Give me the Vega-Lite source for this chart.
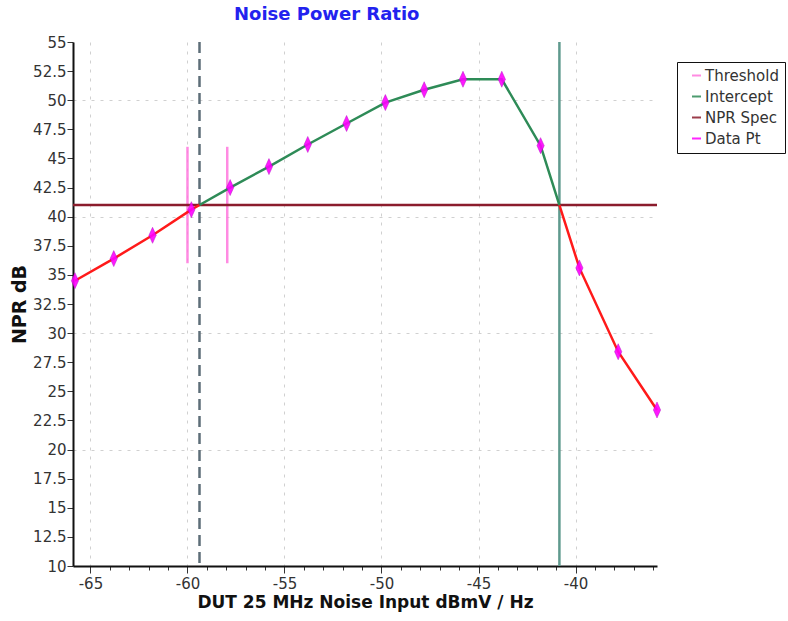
{
  "$schema": "https://vega.github.io/schema/vega-lite/v6.json",
  "autosize": {"type": "none"},
  "padding": {"left": 73, "top": 42, "right": 131, "bottom": 55},
  "width": 584,
  "height": 524,
  "background": "white",
  "config": {
    "font": "DejaVu Sans",
    "view": {"stroke": null}
  },
  "title": {
    "text": "Noise Power Ratio",
    "color": "#2222ee",
    "fontSize": 18,
    "fontWeight": "bold",
    "font": "DejaVu Sans",
    "anchor": "start",
    "frame": "group",
    "dx": 161,
    "offset": 11
  },
  "datasets": {
    "curve": [
      {"x": -65.8, "y": 34.5, "seg": "r1"},
      {"x": -63.8, "y": 36.4, "seg": "r1"},
      {"x": -61.8, "y": 38.4, "seg": "r1"},
      {"x": -59.8, "y": 40.6, "seg": "r1"},
      {"x": -59.38, "y": 41, "seg": "r1"},
      {"x": -59.38, "y": 41, "seg": "g"},
      {"x": -57.8, "y": 42.5, "seg": "g"},
      {"x": -55.8, "y": 44.3, "seg": "g"},
      {"x": -53.8, "y": 46.2, "seg": "g"},
      {"x": -51.8, "y": 48.0, "seg": "g"},
      {"x": -49.8, "y": 49.8, "seg": "g"},
      {"x": -47.8, "y": 50.9, "seg": "g"},
      {"x": -45.8, "y": 51.8, "seg": "g"},
      {"x": -43.8, "y": 51.8, "seg": "g"},
      {"x": -41.8, "y": 46.1, "seg": "g"},
      {"x": -40.83, "y": 41, "seg": "g"},
      {"x": -40.83, "y": 41, "seg": "r2"},
      {"x": -39.8, "y": 35.6, "seg": "r2"},
      {"x": -37.8, "y": 28.4, "seg": "r2"},
      {"x": -35.8, "y": 23.4, "seg": "r2"}
    ],
    "pts": [
      {"x": -65.8, "y": 34.5},
      {"x": -63.8, "y": 36.4},
      {"x": -61.8, "y": 38.4},
      {"x": -59.8, "y": 40.6},
      {"x": -57.8, "y": 42.5},
      {"x": -55.8, "y": 44.3},
      {"x": -53.8, "y": 46.2},
      {"x": -51.8, "y": 48.0},
      {"x": -49.8, "y": 49.8},
      {"x": -47.8, "y": 50.9},
      {"x": -45.8, "y": 51.8},
      {"x": -43.8, "y": 51.8},
      {"x": -41.8, "y": 46.1},
      {"x": -39.8, "y": 35.6},
      {"x": -37.8, "y": 28.4},
      {"x": -35.8, "y": 23.4}
    ],
    "vlines": [
      {"x": -59.38, "kind": "dash"},
      {"x": -40.83, "kind": "solid"}
    ],
    "thresh": [
      {"x": -60.0, "y": 36, "y2": 46},
      {"x": -57.95, "y": 36, "y2": 46}
    ],
    "spec": [{"y": 41}]
  },
  "encoding": {
    "x": {
      "field": "x",
      "type": "quantitative",
      "scale": {"domain": [-65.9, -35.8], "nice": false, "zero": false},
      "axis": {
        "title": "DUT 25 MHz Noise Input dBmV / Hz",
        "titleFont": "DejaVu Sans",
        "titleFontSize": 17,
        "titleFontWeight": "bold",
        "titleColor": "#111",
        "titlePadding": 3,
        "values": [-65,-64,-63,-62,-61,-60,-59,-58,-57,-56,-55,-54,-53,-52,-51,-50,-49,-48,-47,-46,-45,-44,-43,-42,-41,-40,-39,-38,-37,-36],
        "labelExpr": "datum.value % 5 === 0 ? '' + datum.value : ''",
        "labelFont": "DejaVu Sans",
        "labelFontSize": 15,
        "labelColor": "#333",
        "labelPadding": 3,
        "labelFlush": false,
        "labelOverlap": false,
        "domainColor": "#111",
        "domainWidth": 2,
        "tickColor": "#333",
        "tickWidth": 1,
        "tickSize": {"condition": {"test": "datum.value % 5 === 0", "value": 7}, "value": 4},
        "grid": true,
        "gridDash": [3, 6],
        "gridColor": {"condition": {"test": "datum.value % 5 === 0", "value": "#d0d0d0"}, "value": "transparent"}
      }
    },
    "y": {
      "field": "y",
      "type": "quantitative",
      "scale": {"domain": [10, 55], "nice": false, "zero": false},
      "axis": {
        "title": "NPR dB",
        "titleFont": "DejaVu Sans",
        "titleFontSize": 19,
        "titleFontWeight": "bold",
        "titleColor": "#111",
        "titlePadding": 3,
        "values": [10,12.5,15,17.5,20,22.5,25,27.5,30,32.5,35,37.5,40,42.5,45,47.5,50,52.5,55],
        "labelExpr": "'' + datum.value",
        "labelFont": "DejaVu Sans",
        "labelFontSize": 15,
        "labelColor": "#333",
        "labelPadding": 1,
        "labelFlush": false,
        "labelOverlap": false,
        "domainColor": "#111",
        "domainWidth": 2,
        "tickColor": "#333",
        "tickSize": 6,
        "grid": true,
        "gridDash": [3, 6],
        "gridColor": {"condition": {"test": "datum.value % 10 === 0", "value": "#d0d0d0"}, "value": "transparent"}
      }
    }
  },
  "layer": [
    {
      "data": {"name": "vlines"},
      "transform": [{"filter": "datum.kind === 'dash'"}],
      "mark": {"type": "rule", "color": "#5d6e78", "strokeWidth": 2.5, "strokeDash": [11, 6]},
      "encoding": {"y": null}
    },
    {
      "data": {"name": "vlines"},
      "transform": [{"filter": "datum.kind === 'solid'"}],
      "mark": {"type": "rule", "color": "#5f9a8e", "strokeWidth": 2.5},
      "encoding": {"y": null}
    },
    {
      "data": {"name": "thresh"},
      "mark": {"type": "rule", "strokeWidth": 2.5, "opacity": 0.85},
      "encoding": {
        "y2": {"field": "y2"},
        "color": {
          "datum": "Threshold",
          "type": "nominal",
          "scale": {
            "domain": ["Threshold", "Intercept", "NPR Spec", "Data Pt"],
            "range": ["#ff77dd", "#2e8b57", "#8b1c2c", "#ff00ff"]
          },
          "legend": {
            "title": null,
            "orient": "none",
            "legendX": 604,
            "legendY": 20,
            "direction": "vertical",
            "strokeColor": "#111",
            "fillColor": "white",
            "padding": 6,
            "labelFontSize": 15,
            "labelColor": "#333",
            "labelFont": "DejaVu Sans",
            "labelOffset": 1,
            "rowPadding": 5,
            "symbolOffset": 6,
            "symbolType": "stroke",
            "symbolSize": 81,
            "symbolStrokeWidth": 2
          }
        }
      }
    },
    {
      "data": {"name": "spec"},
      "mark": {"type": "rule", "strokeWidth": 2.5},
      "encoding": {"x": null, "color": {"datum": "NPR Spec", "type": "nominal"}}
    },
    {
      "data": {"name": "curve"},
      "transform": [{"filter": "datum.seg !== 'g'"}],
      "mark": {"type": "line", "color": "#ff1a1a", "strokeWidth": 2.5},
      "encoding": {"detail": {"field": "seg"}, "order": {"field": "x", "type": "quantitative"}}
    },
    {
      "data": {"name": "curve"},
      "transform": [{"filter": "datum.seg === 'g'"}],
      "mark": {"type": "line", "strokeWidth": 2.5},
      "encoding": {"color": {"datum": "Intercept", "type": "nominal"}, "order": {"field": "x", "type": "quantitative"}}
    },
    {
      "data": {"name": "pts"},
      "mark": {"type": "point", "filled": true, "shape": "M0,-1L0.45,0L0,1L-0.45,0Z", "size": 256, "opacity": 0.9, "stroke": "#b000c0", "strokeWidth": 0.5},
      "encoding": {"color": {"datum": "Data Pt", "type": "nominal"}}
    }
  ]
}
